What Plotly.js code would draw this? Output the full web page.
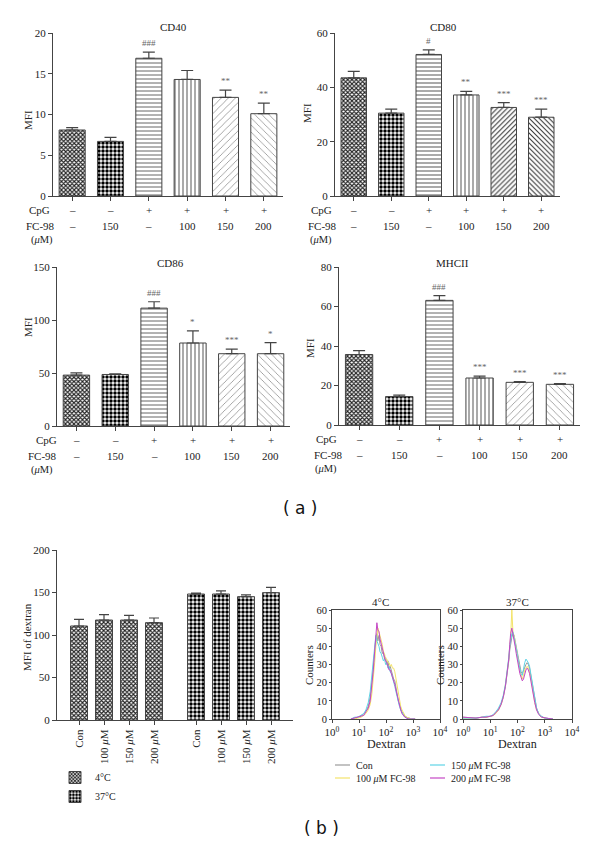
<!DOCTYPE html>
<html><head><meta charset="utf-8">
<script src="https://cdn.plot.ly/plotly-3.0.1.min.js"></script>
<style>html,body{margin:0;padding:0;background:#fff}#chart{width:600px;height:844px}</style>
</head><body><div id="chart"></div>
<script>
// ---------- data: panel (a) ----------
const categories = ['Control','FC-98 150','CpG','CpG+FC-98 100','CpG+FC-98 150','CpG+FC-98 200'];
const cpgRow = ['–','–','+','+','+','+'];
const fcRow  = ['–','150','–','100','150','200'];

const cd40    = [8.1, 6.7, 16.9, 14.3, 12.1, 10.1];
const cd40Err = [0.3, 0.5, 0.75, 1.1, 0.9, 1.3];
const cd40Sig = ['', '', '###', '', '**', '**'];

const cd80    = [43.5, 30.5, 52.1, 37.2, 32.6, 29.0];
const cd80Err = [2.4, 1.5, 1.7, 1.3, 1.8, 3.0];
const cd80Sig = ['', '', '#', '**', '***', '***'];

const cd86    = [48.0, 48.6, 111.2, 78.3, 68.2, 68.2];
const cd86Err = [2.2, 0.7, 6.0, 11.4, 4.4, 10.4];
const cd86Sig = ['', '', '###', '*', '***', '*'];

const mhc    = [35.7, 14.4, 63.1, 23.8, 21.6, 20.6];
const mhcErr = [2.0, 0.7, 2.4, 0.9, 0.4, 0.4];
const mhcSig = ['', '', '###', '***', '***', '***'];

// ---------- data: panel (b) bars ----------
const doseLabels = ['Con', '100 <i>μ</i>M', '150 <i>μ</i>M', '200 <i>μ</i>M'];
const temps = ['4°C', '37°C'];
const dextran4     = [110.6, 117.6, 117.6, 114.5];
const dextran4Err  = [7.8, 6.3, 5.5, 5.5];
const dextran37    = [148.2, 148.2, 145.1, 149.8];
const dextran37Err = [1.2, 3.6, 2.0, 6.3];

// ---------- data: panel (b) histograms ----------
const histNames = ['Con', '100 <i>μ</i>M FC-98', '150 <i>μ</i>M FC-98', '200 <i>μ</i>M FC-98'];
const dex4X = [5,7,9,12,15,18,22,26,30,34,38,42,46,50,55,60,66,73,80,88,97,107,118,130,143,158,174,192,212,234,258,285,315,350,390,440,500,580,700,900,1200];
const h4Con  = [0,0.5,1,1.5,3,4,7,12,20,29,38,44,47,43,46,41,40,36,37,33,34,30,32,28,29,26,25,22,21,17,14,10,8,6,4,3,1.5,1,0.5,0,0];
const h4_100 = [0,0,0.5,1,2,3,5,8,14,22,31,40,47,50,48,46,43,41,37,36,33,33,31,31,29,30,28,28,26,22,18,14,10,7,5,3,2,1,0.5,0,0];
const h4_150 = [0,1,1,2,3,5,9,15,24,33,41,46,43,42,40,37,36,34,32,33,30,31,28,29,26,25,23,21,18,15,12,9,7,5,3,2,1,0.5,0,0,0];
const h4_200 = [0,0.5,1,1.5,2,4,6,10,18,27,37,46,53,49,48,44,41,39,35,34,32,31,29,27,27,25,24,22,19,16,13,10,7,5,3,2,1,0.5,0,0,0];

const dex37X = [1,2,3,5,7,10,13,16,20,25,30,36,42,48,52,56,62,68,75,82,90,100,110,122,135,150,166,184,204,226,250,277,307,340,380,430,500,600,750,1000,1400,2000];
const h37Con  = [1,0.5,0.5,1,1,1.5,2,3.5,5,8,12,18,25,32,38,42,45,47,46,43,40,37,33,29,26,25,27,29,30,31,30,28,24,20,15,10,6,3,1.5,0.5,0.3,0];
const h37_100 = [0.5,0.5,0.5,1,1,1.5,2,3,5,8,12,19,26,33,40,45,60,48,46,42,39,35,31,27,24,22,24,27,28,29,28,26,23,19,14,9,5,3,1,0.5,0,0];
const h37_150 = [0.5,0.5,0.5,1,1.5,1.5,2.5,4,6,9,13,19,26,34,40,44,47,48,45,42,38,35,31,27,25,24,28,31,33,32,31,29,25,20,15,10,6,3,1.5,0.5,0.3,0];
const h37_200 = [1,0.5,0.5,1,1,1.5,2,3.5,5,8,12,18,25,33,41,47,50,47,44,40,36,32,28,25,23,21,22,25,27,28,27,25,21,17,13,9,5,2.5,1,0.5,0.3,0];
const histColors = ['#9a9a9a', '#f3e36a', '#5fd3e6', '#c447c4'];

// ---------- helpers ----------
const W = 600, H = 844;
const px = v => v / W;
const py = v => 1 - v / H;
const SERIF = 'Liberation Serif, Times New Roman, serif';
const TXT = '#222';

const basePat = {
  shape: ['x', '.', '-', '|', '/', '\\'],
  fgcolor: ['#222', '#000', '#666', '#555', '#8a8a8a', '#8a8a8a'],
  bgcolor: ['#fff','#fff','#fff','#fff','#fff','#fff'],
  size: [3, 4, 4, 4, 5, 5],
  solidity: [0.6, 0.6, 0.25, 0.25, 0.15, 0.15]
};
const darkPat = Object.assign({}, basePat, {
  fgcolor: ['#222', '#000', '#555', '#555', '#333', '#333'],
  size: [3, 4, 4, 4, 3.5, 3.5],
  solidity: [0.6, 0.6, 0.25, 0.25, 0.3, 0.3]
});

function barTrace(vals, err, ax, pat) {
  return {
    type: 'bar', x: categories, y: vals, xaxis: 'x' + ax, yaxis: 'y' + ax,
    width: 0.68, showlegend: false, hoverinfo: 'skip',
    marker: { color: '#fff', pattern: pat, line: { color: '#444', width: 1 } },
    error_y: { type: 'data', symmetric: false, array: err, arrayminus: err.map(() => 0),
               color: '#444', thickness: 1.2, width: 6 }
  };
}

const traces = [
  barTrace(cd40, cd40Err, '', basePat),
  barTrace(cd80, cd80Err, '2', darkPat),
  barTrace(cd86, cd86Err, '3', basePat),
  barTrace(mhc, mhcErr, '4', basePat)
];

// dextran bars (two groups, spaced)
const groupGap = 0.68;
const pos4 = doseLabels.map((d, i) => i);
const pos37 = doseLabels.map((d, i) => i + doseLabels.length + groupGap);
traces.push({
  type: 'bar', name: temps[0], x: pos4, y: dextran4, xaxis: 'x5', yaxis: 'y5', width: 0.68,
  marker: { color: '#fff', pattern: { shape: 'x', fgcolor: '#222', bgcolor: '#fff', size: 3, solidity: 0.6 }, line: { color: '#444', width: 1 } },
  error_y: { type: 'data', symmetric: false, array: dextran4Err, arrayminus: dextran4Err.map(() => 0), color: '#444', thickness: 1.2, width: 5 },
  legend: 'legend', hoverinfo: 'skip'
});
traces.push({
  type: 'bar', name: temps[1], x: pos37, y: dextran37, xaxis: 'x5', yaxis: 'y5', width: 0.68,
  marker: { color: '#fff', pattern: { shape: '.', fgcolor: '#000', bgcolor: '#fff', size: 4, solidity: 0.6 }, line: { color: '#444', width: 1 } },
  error_y: { type: 'data', symmetric: false, array: dextran37Err, arrayminus: dextran37Err.map(() => 0), color: '#444', thickness: 1.2, width: 5 },
  legend: 'legend', hoverinfo: 'skip'
});

// histograms
const h4 = [h4Con, h4_100, h4_150, h4_200];
const h37 = [h37Con, h37_100, h37_150, h37_200];
h4.forEach((ys, i) => traces.push({ type: 'scatter', mode: 'lines', x: dex4X, y: ys, xaxis: 'x6', yaxis: 'y6',
  line: { color: histColors[i], width: 1 }, showlegend: false, name: histNames[i], hoverinfo: 'skip' }));
h37.forEach((ys, i) => traces.push({ type: 'scatter', mode: 'lines', x: dex37X, y: ys, xaxis: 'x7', yaxis: 'y7',
  line: { color: histColors[i], width: 1 }, showlegend: false, name: histNames[i], hoverinfo: 'skip' }));

// ---------- axes ----------
function yax(anchor, d0, d1, range, dtick) {
  return { anchor: anchor, domain: [py(d1), py(d0)], range: range, dtick: dtick, tick0: 0,
    showgrid: false, zeroline: false, showline: true, linecolor: '#444', linewidth: 1,
    ticks: 'outside', ticklen: 4, tickcolor: '#444', tickfont: { family: SERIF, size: 11, color: TXT } };
}
function xcat(anchor, x0, x1) {
  return { anchor: anchor, domain: [px(x0), px(x1)], type: 'category', range: [-0.5, 5.5],
    showgrid: false, zeroline: false, showline: true, linecolor: '#444', linewidth: 1,
    ticks: 'outside', ticklen: 4, tickcolor: '#444', showticklabels: false };
}
function xhist(anchor, x0, x1) {
  return { anchor: anchor, domain: [px(x0), px(x1)], type: 'log', range: [0, 4],
    tickvals: [1, 10, 100, 1000, 10000],
    ticktext: ['10<sup>0</sup>', '10<sup>1</sup>', '10<sup>2</sup>', '10<sup>3</sup>', '10<sup>4</sup>'],
    showgrid: false, zeroline: false, showline: true, mirror: true, linecolor: '#444', linewidth: 1,
    ticks: 'outside', ticklen: 3, tickcolor: '#444', tickfont: { family: SERIF, size: 11, color: TXT } };
}
function yhist(anchor, d0, d1) {
  const a = yax(anchor, d0, d1, [0, 60], 10);
  a.mirror = true; a.ticklen = 2;
  a.tickfont = { family: SERIF, size: 10.5, color: TXT };
  return a;
}

const layout = {
  width: W, height: H, margin: { l: 0, r: 0, t: 0, b: 0 },
  paper_bgcolor: '#fff', plot_bgcolor: 'rgba(0,0,0,0)',
  barmode: 'overlay',
  font: { family: SERIF, color: TXT, size: 11 },
  xaxis: xcat('y', 53, 283), yaxis: yax('x', 33, 196, [0, 20], 5),
  xaxis2: xcat('y2', 335, 560), yaxis2: yax('x2', 33, 196, [0, 60], 20),
  xaxis3: xcat('y3', 57, 290), yaxis3: yax('x3', 267, 426, [0, 150], 50),
  xaxis4: xcat('y4', 339, 580), yaxis4: yax('x4', 267, 425, [0, 80], 20),
  xaxis5: { anchor: 'y5', domain: [px(57), px(293)], range: [-0.88, 8.56],
    tickvals: pos4.concat(pos37), ticktext: doseLabels.concat(doseLabels), tickangle: -90,
    showgrid: false, zeroline: false, showline: true, linecolor: '#444', linewidth: 1,
    ticks: 'outside', ticklen: 4, tickcolor: '#444', tickfont: { family: SERIF, size: 11, color: TXT } },
  yaxis5: yax('x5', 550, 720, [0, 200], 50),
  xaxis6: xhist('y6', 332, 440), yaxis6: yhist('x6', 610, 719),
  xaxis7: xhist('y7', 463, 572), yaxis7: yhist('x7', 610, 719),
  showlegend: true,
  legend: { x: px(55), y: py(763), xanchor: 'left', yanchor: 'top', bgcolor: 'rgba(0,0,0,0)',
    font: { family: SERIF, size: 10, color: TXT }, tracegroupgap: 0, itemwidth: 30 },
  annotations: [], shapes: []
};

const ann = layout.annotations;
function addText(x, y, text, opt) {
  ann.push(Object.assign({ xref: 'paper', yref: 'paper', x: px(x), y: py(y), text: text, showarrow: false,
    font: { family: SERIF, size: 11, color: TXT }, xanchor: 'center', yanchor: 'middle' }, opt || {}));
}

// panel titles
addText(173, 27, 'CD40');
addText(443, 27, 'CD80');
addText(170, 263, 'CD86');
addText(452, 263, 'MHCII');
addText(380, 602, '4°C');
addText(517, 602, '37°C');

// y titles
addText(28, 120, 'MFI', { textangle: -90 });
addText(307, 113, 'MFI', { textangle: -90 });
addText(28, 327, 'MFI', { textangle: -90 });
addText(310, 348, 'MFI', { textangle: -90 });
addText(27, 637, 'MFI of dextran', { textangle: -90 });
addText(309, 665, 'Counters', { textangle: -90 });
addText(440, 665, 'Counters', { textangle: -90 });
addText(386, 744, 'Dextran', { font: { family: SERIF, size: 12, color: TXT } });
addText(517, 744, 'Dextran', { font: { family: SERIF, size: 12, color: TXT } });

// treatment rows and significance marks
const panels = [
  { ax: '',  vals: cd40, err: cd40Err, sig: cd40Sig, bottom: 196, lab: [39, 40, 42] },
  { ax: '2', vals: cd80, err: cd80Err, sig: cd80Sig, bottom: 196, lab: [321, 322, 321] },
  { ax: '3', vals: cd86, err: cd86Err, sig: cd86Sig, bottom: 426, lab: [46, 42, 42] },
  { ax: '4', vals: mhc,  err: mhcErr,  sig: mhcSig,  bottom: 425, lab: [326, 328, 326] }
];
panels.forEach(p => {
  categories.forEach((c, i) => {
    ann.push({ xref: 'x' + p.ax, yref: 'paper', x: c, y: py(p.bottom + 14), text: cpgRow[i], showarrow: false,
      font: { family: SERIF, size: 11, color: TXT }, xanchor: 'center', yanchor: 'middle' });
    ann.push({ xref: 'x' + p.ax, yref: 'paper', x: c, y: py(p.bottom + 30), text: fcRow[i], showarrow: false,
      font: { family: SERIF, size: 11, color: TXT }, xanchor: 'center', yanchor: 'middle' });
    if (p.sig[i]) {
      ann.push({ xref: 'x' + p.ax, yref: 'y' + p.ax, x: c, y: p.vals[i] + p.err[i], text: p.sig[i], showarrow: false,
        font: { family: SERIF, size: 9, color: '#666' }, xanchor: 'center', yanchor: 'bottom', yshift: 2 });
    }
  });
  addText(p.lab[0], p.bottom + 14, 'CpG');
  addText(p.lab[1], p.bottom + 30, 'FC-98');
  addText(p.lab[2], p.bottom + 44, '(<i>μ</i>M)', { font: { family: SERIF, size: 10.5, color: TXT } });
});

// histogram legend (drawn manually)
const legPos = [[335, 765], [335, 778], [430, 765], [430, 778]];
histNames.forEach((n, i) => {
  layout.shapes.push({ type: 'line', xref: 'paper', yref: 'paper',
    x0: px(legPos[i][0]), x1: px(legPos[i][0] + 15), y0: py(legPos[i][1]), y1: py(legPos[i][1]),
    line: { color: histColors[i], width: 1.2 } });
  addText(legPos[i][0] + 19, legPos[i][1], n, { xanchor: 'left', font: { family: SERIF, size: 10, color: TXT } });
});

// panel labels
addText(300, 508, '( a )', { font: { family: 'DejaVu Sans, sans-serif', size: 17, color: '#111' } });
addText(321, 828, '( b )', { font: { family: 'DejaVu Sans, sans-serif', size: 17, color: '#111' } });

Plotly.newPlot('chart', traces, layout, { staticPlot: true, displayModeBar: false });
</script>
</body></html>
